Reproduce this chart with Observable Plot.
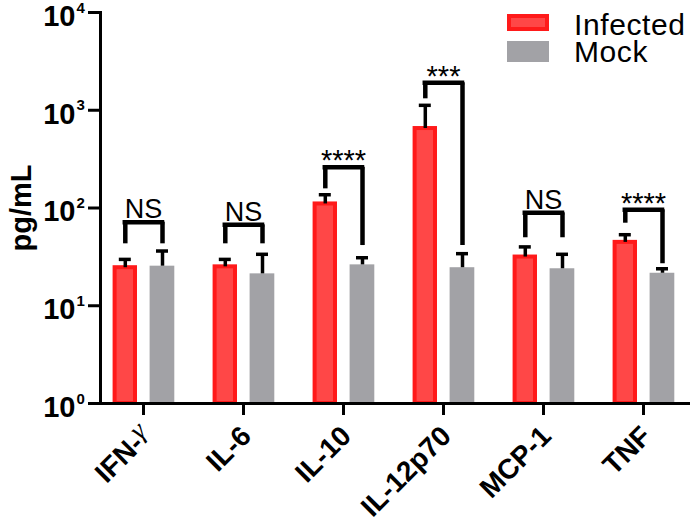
<!DOCTYPE html>
<html>
<head>
<meta charset="utf-8">
<script src="https://cdn.jsdelivr.net/npm/d3@7"></script>
<script src="https://cdn.jsdelivr.net/npm/@observablehq/plot@0.6"></script>
<style>
  html, body { margin: 0; padding: 0; background: #fff; }
  #wrap { position: relative; width: 690px; height: 526px; font-family: "Liberation Sans", Arial, sans-serif; }
  .sw { position: absolute; box-sizing: border-box; }
  .lt { position: absolute; font-size: 30px; line-height: 26.7px; letter-spacing: 0.6px; color: #000; white-space: nowrap; }
</style>
</head>
<body>
<div id="wrap">
  <div id="chart"></div>
  <div class="sw" style="left:507px;top:14px;width:42px;height:17px;background:#ff4747;border:4px solid #ff1a1a;"></div>
  <div class="sw" style="left:507px;top:41px;width:42px;height:21px;background:#a2a2a6;"></div>
  <div class="lt" style="left:574px;top:12px;">Infected<br>Mock</div>
</div>
<script>
const categories = ["IFN-γ", "IL-6", "IL-10", "IL-12p70", "MCP-1", "TNF"];
const infected    = [24.5, 25, 110, 650, 31.5, 44.5];
const infectedErr = [29.8, 29.8, 136.7, 1123, 40, 53.3];   // top of upper error bar
const mock        = [25.4, 21.2, 26.2, 24.5, 23.9, 21.5];
const mockErr     = [36.3, 33.6, 31, 34.1, 33.6, 23.9];
const sigLabels   = ["NS", "NS", "****", "***", "NS", "****"];
const bracketTop      = [71.6, 67.3, 261, 1910, 89.3, 95.9];
const bracketLeftEnd  = [43, 43, 157, 1309, 49.6, 69.9];
const bracketRightEnd = [43, 43, 41.3, 41.3, 49.6, 26.9];
const yTicks = [1, 10, 100, 1000, 10000];

const rows = categories.map((c, i) => ({
  cat: c, inf: infected[i], infErr: infectedErr[i], mock: mock[i], mockErr: mockErr[i],
  sig: sigLabels[i], top: bracketTop[i], lEnd: bracketLeftEnd[i], rEnd: bracketRightEnd[i]
}));

const RED_FILL = "#ff4747", RED_STROKE = "#ff1a1a", GRAY = "#a2a2a6";

const chart = Plot.plot({
  width: 690,
  height: 526,
  marginLeft: 100,
  marginRight: 0,
  marginTop: 12,
  marginBottom: 123,
  style: { fontFamily: "Liberation Sans, Arial, sans-serif", color: "#000", background: "#fff" },
  x: { domain: categories, range: [92.7, 692.7], padding: 0, label: null },
  y: { type: "log", domain: [1, 10000], label: null },
  marks: [
    // bars
    Plot.barY(rows, { x: "cat", y1: 1, y2: "inf", fill: RED_FILL, stroke: RED_STROKE, strokeWidth: 4, insetLeft: 21.6, insetRight: 58 }),
    Plot.barY(rows, { x: "cat", y1: 1, y2: "mock", fill: GRAY, insetLeft: 56.6, insetRight: 18.7 }),
    // error bars
    Plot.ruleX(rows, { x: "cat", y1: "inf", y2: "infErr", dx: -18.2, strokeWidth: 3.5 }),
    Plot.tickY(rows, { x: "cat", y: "infErr", insetLeft: 25.8, insetRight: 62.2, strokeWidth: 3.5 }),
    Plot.ruleX(rows, { x: "cat", y1: "mock", y2: "mockErr", dx: 19, strokeWidth: 3.5 }),
    Plot.tickY(rows, { x: "cat", y: "mockErr", insetLeft: 63, insetRight: 25, strokeWidth: 3.5 }),
    // significance brackets
    Plot.ruleX(rows, { x: "cat", y1: "lEnd", y2: "top", dx: -18.2, strokeWidth: 4.5 }),
    Plot.ruleX(rows, { x: "cat", y1: "rEnd", y2: "top", dx: 19, strokeWidth: 4.5 }),
    Plot.tickY(rows, { x: "cat", y: "top", insetLeft: 31.8, insetRight: 31, strokeWidth: 4.5, strokeLinecap: "square" }),
    Plot.text(rows.filter(d => d.sig === "NS"), { x: "cat", y: "top", text: "sig", lineAnchor: "bottom", dy: -4, fontSize: 27, fontWeight: "normal" }),
    Plot.text(rows.filter(d => d.sig !== "NS"), { x: "cat", y: "top", text: "sig", lineAnchor: "bottom", dy: 3, fontSize: 29, fontWeight: "normal" }),
    // y axis: ticks and 10^n labels
    Plot.axisY({ ticks: yTicks, tickSize: 12, strokeWidth: 3, tickFormat: () => "", label: null }),
    Plot.text(yTicks, { y: d => d, text: () => "10", frameAnchor: "left", dx: -25, dy: 4, textAnchor: "end", lineAnchor: "middle", fontSize: 29, fontWeight: "bold" }),
    Plot.text(yTicks, { y: d => d, text: d => String(Math.round(Math.log10(d))), frameAnchor: "left", dx: -24, dy: 0, textAnchor: "start", lineAnchor: "bottom", fontSize: 15, fontWeight: "bold" }),
    // x axis: ticks, then rotated labels
    Plot.axisX({ tickSize: 12, strokeWidth: 3, tickFormat: () => "", label: null }),
    Plot.axisX({ tickSize: 0, tickPadding: 28, tickRotate: -45, dx: 3, fontSize: 28, fontWeight: "bold", label: null }),
    Plot.text(["pg/mL"], { text: d => d, frameAnchor: "left", dx: -79, rotate: -90, textAnchor: "middle", lineAnchor: "middle", fontSize: 29, fontWeight: "bold" }),
    Plot.ruleY([1], { strokeWidth: 3 }),
    Plot.frame({ anchor: "left", strokeWidth: 3 })
  ]
});

document.getElementById("chart").appendChild(chart);

// render the gamma in IFN-γ as a serif italic glyph, as in the reference
chart.querySelectorAll("text").forEach(t => {
  if (t.textContent === "IFN-γ") {
    t.textContent = "IFN-";
    const ts = document.createElementNS("http://www.w3.org/2000/svg", "tspan");
    ts.setAttribute("font-family", "Liberation Serif, serif");
    ts.setAttribute("font-style", "italic");
    ts.setAttribute("font-weight", "normal");
    ts.setAttribute("dy", "-0.25em");
    ts.textContent = "γ";
    t.appendChild(ts);
  }
});
</script>
</body>
</html>
